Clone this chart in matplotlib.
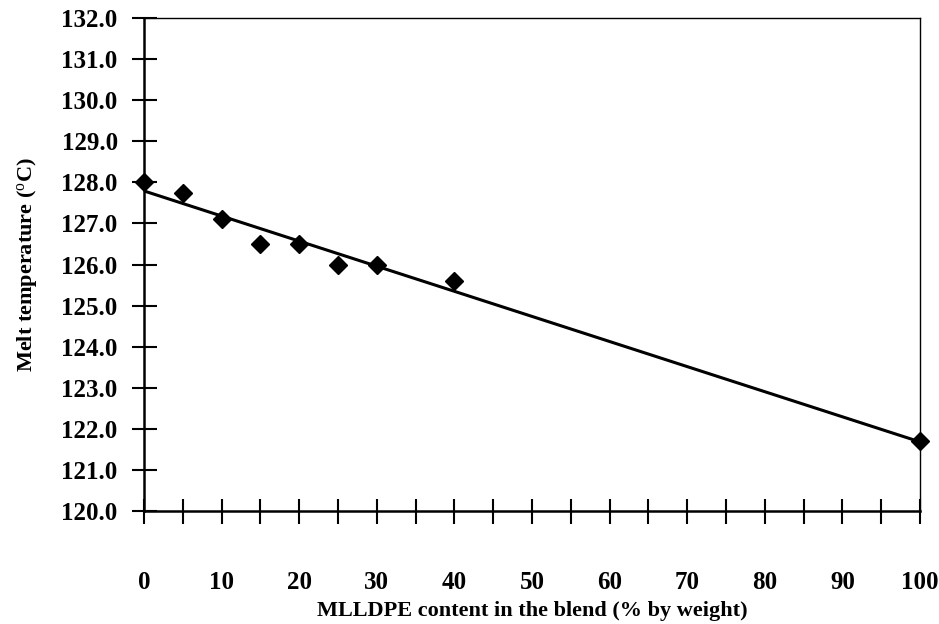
import matplotlib
matplotlib.use("Agg")
import matplotlib.pyplot as plt
import numpy as np

# Data
mlldpe_content = [0, 5, 10, 15, 20, 25, 30, 40, 100]
melt_temp = [128.0, 127.75, 127.1, 126.5, 126.5, 126.0, 126.0, 125.6, 121.7]
x_tick_labels = ["0", "10", "20", "30", "40", "50", "60", "70", "80", "90", "100"]
y_ticks = [120.0, 121.0, 122.0, 123.0, 124.0, 125.0, 126.0, 127.0, 128.0, 129.0, 130.0, 131.0, 132.0]

plt.rcParams['font.family'] = ['Liberation Serif', 'DejaVu Serif']
plt.rcParams['mathtext.fontset'] = 'custom'
plt.rcParams['mathtext.rm'] = 'Liberation Serif'
plt.rcParams['mathtext.it'] = 'Liberation Serif:italic'
plt.rcParams['mathtext.bf'] = 'Liberation Serif:bold'

fig = plt.figure(figsize=(9.39, 6.24), dpi=100)
ax = fig.add_axes([0.1534, 0.181, 0.8264, 0.7902])

# Linear fit line
coef = np.polyfit(mlldpe_content, melt_temp, 1)
fx = np.array([min(mlldpe_content), max(mlldpe_content)])
ax.plot(fx, np.polyval(coef, fx), color='black', lw=2.2, zorder=2)
ax.plot(mlldpe_content, melt_temp, linestyle='none', marker='D', color='black',
        markersize=9, zorder=3, clip_on=False)

ax.set_xlim(0, 100)
ax.set_ylim(120, 132)
ax.set_xticks(np.arange(0, 101, 10))
ax.set_xticklabels(x_tick_labels)
ax.set_xticks(np.arange(5, 100, 10), minor=True)
ax.set_yticks(y_ticks)
ax.set_yticklabels([f"{v:.1f}" for v in y_ticks])

ax.tick_params(axis='x', which='both', direction='inout', length=18, width=1.5,
               pad=34, labelsize=18)
ax.tick_params(axis='y', which='both', direction='inout', length=18, width=1.5,
               pad=10, labelsize=18)
for lab in ax.get_xticklabels() + ax.get_yticklabels():
    lab.set_fontweight('bold')

for s in ['left', 'bottom']:
    ax.spines[s].set_linewidth(1.8)
for s in ['top', 'right']:
    ax.spines[s].set_linewidth(1.0)
    ax.spines[s].set_linestyle((0, (3, 1)))

ax.set_xlabel("MLLDPE content in the blend (% by weight)", fontsize=16,
              fontweight='bold', labelpad=5)
ax.set_ylabel(r"Melt temperature ($^{\mathrm{o}}$C)", fontsize=16,
              fontweight='bold', labelpad=16)

fig.savefig("out.png", dpi=100)
